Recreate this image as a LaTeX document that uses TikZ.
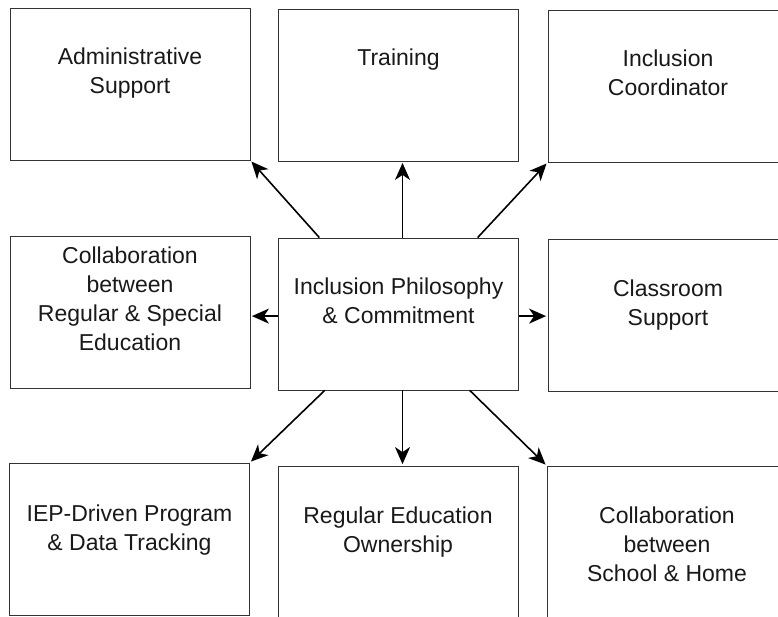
\documentclass[tikz,border=0pt]{standalone}
\usepackage{fontspec}
\setmainfont{Liberation Sans}
\usetikzlibrary{positioning,arrows.meta}

\tikzset{
  box/.style={draw=black!80, line width=0.8pt, minimum width=240pt, minimum height=152pt, inner sep=0pt},
  txt/.style={align=center, inner sep=0pt, font=\fontsize{23}{29}\selectfont, text=black!90},
  arr/.style={-{Stealth[length=17pt,width=15pt,inset=5pt]}, line width=1.6pt, shorten >=1.5pt}
}

\begin{document}
\begin{tikzpicture}[x=1pt,y=-1pt]
\useasboundingbox (0,0) rectangle (778,616);
% boxes
\node[box] (admin) at (130,84) {};
\node[box] (train) at (398.5,85) {};
\node[box] (coord) at (668,86) {};
\node[box] (collab) at (130,312.5) {};
\node[box] (philo) at (398.5,314) {};
\node[box] (class) at (668,315) {};
\node[box] (iep) at (129.5,539) {};
\node[box] (reged) at (398,542) {};
\node[box] (home) at (667,542) {};
% texts
\node[txt, below=40pt of admin.north] (admint) {Administrative\\Support};
\node[txt, below=40pt of train.north] (traint) {Training};
\node[txt, below=40pt of coord.north] (coordt) {Inclusion\\Coordinator};
\node[txt, below=11pt of collab.north] (collabt) {Collaboration\\between\\Regular \& Special\\Education};
\node[txt, below=40pt of philo.north] (philot) {Inclusion Philosophy\\\& Commitment};
\node[txt, below=41pt of class.north] (classt) {Classroom\\Support};
\node[txt, below=42pt of iep.north] (iept) {IEP-Driven Program\\\& Data Tracking};
\node[txt, below=41pt of reged.north] (regedt) {Regular Education\\Ownership};
\node[txt, below=41pt of home.north] (homet) {Collaboration\\between\\School \& Home};
% arrows
\draw[arr] (philo.136) -- (admin.south east);
\draw[arr] (philo.87) -- (philo.87 |- train.south);
\draw[arr] (philo.44) -- (coord.south west);
\draw[arr] (philo.181) -- (philo.181 -| collab.east);
\draw[arr] (philo.359) -- (philo.359 -| class.west);
\draw[arr] (philo.226) -- (iep.north east);
\draw[arr] (philo.273) -- (philo.273 |- reged.north);
\draw[arr] (philo.313) -- (home.north west);
\end{tikzpicture}
\end{document}
